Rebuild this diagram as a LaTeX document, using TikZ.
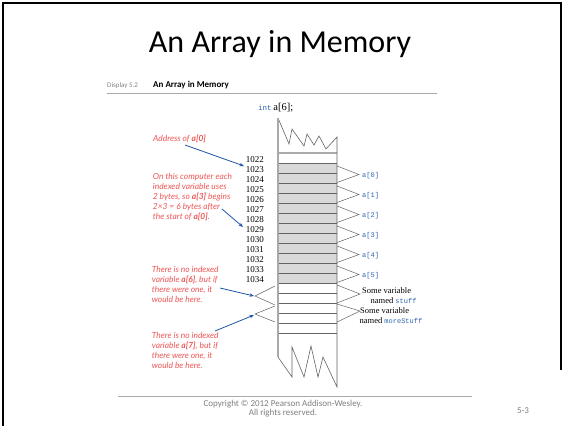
\documentclass[tikz,border=0pt]{standalone}
\usepackage{fontspec}
\setmainfont{Liberation Serif}
\newfontfamily\calib{Carlito}
\newfontfamily\notef{Lato}
\newfontfamily\monof{Liberation Mono}
\usetikzlibrary{arrows.meta}
\definecolor{codeblue}{RGB}{45,100,175}
\definecolor{notered}{RGB}{238,85,85}
\definecolor{arrowblue}{RGB}{30,85,165}
\definecolor{cellgray}{RGB}{217,217,217}
\definecolor{linegray}{RGB}{100,100,100}
\definecolor{edgegray}{RGB}{170,170,170}
\definecolor{footgray}{RGB}{128,128,128}
\tikzset{
  addr/.style={font=\fontsize{9}{10}\selectfont, anchor=base east, inner sep=0},
  elabel/.style={font=\monof\fontsize{7}{8}\selectfont, text=codeblue, anchor=base west, inner sep=0},
  varlabel/.style={font=\fontsize{8.5}{10}\selectfont, anchor=base west, inner sep=0},
  note/.style={font=\notef\itshape\fontsize{8.4}{10}\selectfont, text=notered, align=left, anchor=north west, inner sep=0},
  brk/.style={linegray, line width=0.5pt},
  cellline/.style={linegray, line width=0.6pt},
  pointer/.style={arrowblue, line width=0.8pt, -{Stealth[length=4.5pt,width=3.5pt]}},
  foot/.style={font=\calib\fontsize{9}{10}\selectfont, text=footgray, anchor=base, inner sep=0},
}
\newcommand{\cd}[1]{{\monof\color{codeblue}\fontsize{7}{8}\selectfont #1}}
\begin{document}
\begin{tikzpicture}[x=1pt,y=-1pt]
\useasboundingbox (0,0) rectangle (564,426);
\fill[white] (0,0) rectangle (564,426);
% frame
\draw[line width=2pt] (3,426) -- (3,3) -- (561,3) -- (561,370);
% title
\node[font=\calib\fontsize{32}{38}\selectfont, anchor=base, inner sep=0] (title) at (280,52) {An Array in Memory};
% display header
\node[font=\calib\fontsize{7}{8}\selectfont, text=footgray, anchor=base west, inner sep=0] (disp) at (107,87.5) {Display 5.2};
\node[font=\calib\bfseries\fontsize{9}{10}\selectfont, anchor=base west, inner sep=0] (dtitle) at (153,87.5) {An Array in Memory};
\draw[edgegray, line width=1pt] (107,93) -- (437,93);
% declaration
\node[anchor=base west, inner sep=0] (decl) at (258,110) {{\monof\color{codeblue}\fontsize{7.5}{8}\selectfont int}\,{\fontsize{10.5}{12}\selectfont a[6];}};
% memory column
\fill[cellgray] (278,163) rectangle (337,283);
\foreach \y in {163,173,...,333} \draw[cellline] (278,\y) -- (337,\y);
\draw[edgegray, line width=1.5pt] (278,153) -- (337,153);
\draw[linegray, line width=0.6pt, line join=miter]
  (278,118) -- (289,144) -- (292,129) -- (304,146) -- (307,134) -- (314,145) -- (319,136) -- (326,149) -- (337,137)
  -- (337,387) -- (323,357) -- (318,377) -- (311,346) -- (304,377) -- (292,347) -- (292,377) -- (278,357);
\draw[edgegray, line width=1.5pt] (278,118) -- (278,357);
% addresses
\foreach \i in {0,...,12} {
  \pgfmathtruncatemacro\a{1022+\i}
  \node[addr] (ad\i) at (264,{162+10*\i}) {\a};
}
% element brackets
\foreach \k in {0,...,5} {
  \pgfmathsetmacro\c{173+20*\k}
  \draw[brk] (337,\c-7) -- (359,\c+1.5) -- (337,\c+9.5);
  \node[elabel] (el\k) at (362,\c+4.5) {a[\k]};
}
% other variables
\draw[brk] (337,285) -- (360,294) -- (337,303);
\draw[brk] (337,304) -- (360,311) -- (337,322);
\node[varlabel] (sv1) at (362,293) {Some variable};
\node[varlabel] (nm1) at (370.5,303) {named \cd{stuff}};
\node[varlabel] (sv2) at (360,313) {Some variable};
\node[varlabel] (nm2) at (359.5,323) {named \cd{moreStuff}};
% left brackets
\draw[brk] (275,286) -- (255,296) -- (275,305);
\draw[brk] (275,306) -- (255,314) -- (275,322);
% notes
\node[note] (n1) at (153,135) {Address of \textbf{a[0]}};
\node[note] (n2) at (152.7,173.5) {On this computer each\\indexed variable uses\\2 bytes, so \textbf{a[3]} begins\\2×3 = 6 bytes after\\the start of \textbf{a[0]}.};
\node[note] (n3) at (151.7,266) {There is no indexed\\variable \textbf{a[6]}, but if\\there were one, it\\would be here.};
\node[note] (n4) at (151.7,332) {There is no indexed\\variable \textbf{a[7]}, but if\\there were one, it\\would be here.};
% arrows
\coordinate (t1) at (185,145); \coordinate (h1) at (244,166);
\coordinate (t2) at (222,209); \coordinate (h2) at (243,227);
\coordinate (t3) at (220,288); \coordinate (h3) at (254,296);
\coordinate (t4) at (215,331); \coordinate (h4) at (254,315);
\draw[pointer] (t1) -- (h1);
\draw[pointer] (t2) -- (h2);
\draw[pointer] (t3) -- (h3);
\draw[pointer] (t4) -- (h4);
% footer
\draw[edgegray, line width=0.8pt] (118,396.5) -- (472,396.5);
\node[foot] (copy) at (283,406.5) {Copyright © 2012 Pearson Addison-Wesley.};
\node[foot] (rights) at (283,415.5) {All rights reserved.};
\node[foot] (pg) at (523,413) {5-3};
\end{tikzpicture}
\end{document}
